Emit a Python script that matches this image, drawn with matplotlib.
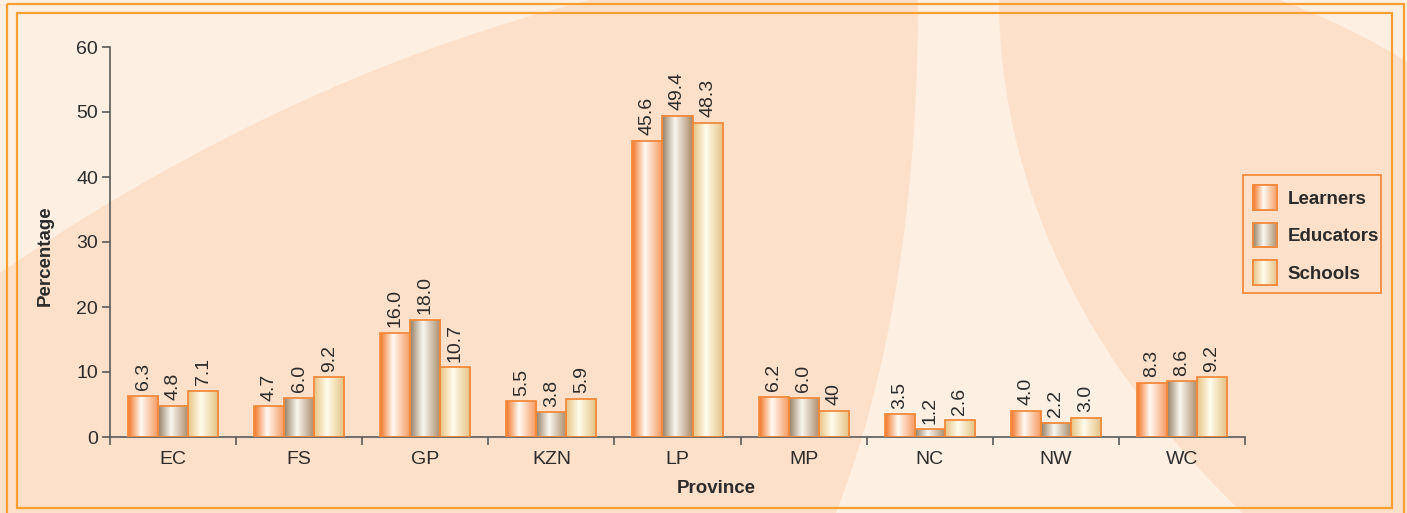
import numpy as np
import matplotlib
matplotlib.use('Agg')
import matplotlib.pyplot as plt
from matplotlib.patches import Patch, Rectangle, PathPatch
from matplotlib.path import Path
from matplotlib.image import BboxImage
from matplotlib.transforms import IdentityTransform

# ---------------- data ----------------
provinces = ['EC', 'FS', 'GP', 'KZN', 'LP', 'MP', 'NC', 'NW', 'WC']
learners = [6.3, 4.7, 16.0, 5.5, 45.6, 6.2, 3.5, 4.0, 8.3]
educators = [4.8, 6.0, 18.0, 3.8, 49.4, 6.0, 1.2, 2.2, 8.6]
schools = [7.1, 9.2, 10.7, 5.9, 48.3, 4.0, 2.6, 3.0, 9.2]
learner_labels = ['6.3', '4.7', '16.0', '5.5', '45.6', '6.2', '3.5', '4.0', '8.3']
educator_labels = ['4.8', '6.0', '18.0', '3.8', '49.4', '6.0', '1.2', '2.2', '8.6']
school_labels = ['7.1', '9.2', '10.7', '5.9', '48.3', '40', '2.6', '3.0', '9.2']
series_names = ['Learners', 'Educators', 'Schools']
y_ticks = [0, 10, 20, 30, 40, 50, 60]

# ---------------- style ----------------
plt.rcParams['font.family'] = ['Liberation Sans', 'DejaVu Sans']
W, H = 1407, 513
DARK_BG = '#fde0c9'
LIGHT_BG = '#fdefe2'
BORDER = '#f7a031'
EDGE = '#f28a3c'
TEXT = '#2b2b2b'
SPINE = '#5a5a5a'
FS = 14
FSB = 13.5

gradients = {
    'Learners': [(243, 118, 38), (255, 250, 244), (246, 150, 90)],
    'Educators': [(150, 128, 100), (250, 247, 240), (168, 137, 104)],
    'Schools': [(231, 196, 132), (255, 252, 236), (228, 192, 128)],
}
mid_colors = {'Learners': '#f7a070', 'Educators': '#b9a386', 'Schools': '#efd6a6'}


def make_gradient(stops, n=64):
    pos = [0.0, 0.42, 1.0]
    t = np.linspace(0, 1, n)
    arr = np.zeros((1, n, 3))
    for c in range(3):
        arr[0, :, c] = np.interp(t, pos, [s[c] / 255 for s in stops])
    return arr


fig = plt.figure(figsize=(W / 100, H / 100), dpi=100)
fig.patch.set_facecolor(DARK_BG)

# background decoration (pixel coordinates, y downwards)
bg = fig.add_axes([0, 0, 1, 1], zorder=-1)
bg.set_xlim(0, W)
bg.set_ylim(H, 0)
bg.axis('off')
bg.set_facecolor(DARK_BG)
M, C4, L, CL = Path.MOVETO, Path.CURVE4, Path.LINETO, Path.CLOSEPOLY
tl = Path([(0, 0), (590, 0), (350, 60), (150, 170), (0, 273), (0, 0)],
          [M, L, C4, C4, C4, CL])
bg.add_patch(PathPatch(tl, facecolor=LIGHT_BG, edgecolor='none'))
band = Path([(918, 0), (918, 200), (890, 380), (833, 520),
             (1250, 520), (1080, 360), (1000, 180), (999, 0), (918, 0)],
            [M, C4, C4, C4, L, C4, C4, C4, CL])
bg.add_patch(PathPatch(band, facecolor=LIGHT_BG, edgecolor='none'))
tr = Path([(1280, 0), (1320, 15), (1370, 38), (1407, 62), (1407, 0), (1280, 0)],
          [M, C4, C4, C4, L, CL])
bg.add_patch(PathPatch(tr, facecolor=LIGHT_BG, edgecolor='none'))
bg.add_patch(Rectangle((7, 4), 1397, 520, fill=False, edgecolor=BORDER, lw=1.6))
bg.add_patch(Rectangle((17, 13), 1375, 495, fill=False, edgecolor=BORDER, lw=1.6))
# legend frame
bg.add_patch(Rectangle((1243, 175), 138, 118, facecolor=DARK_BG, edgecolor=EDGE, lw=1.3))

# main axes
ax = fig.add_axes([110 / W, 1 - 437 / H, (1245 - 110) / W, 390 / H])
ax.set_facecolor('none')

x = np.arange(len(provinces))
bw = 0.238
all_vals = [learners, educators, schools]
all_labels = [learner_labels, educator_labels, school_labels]
for i, (name, vals, labs) in enumerate(zip(series_names, all_vals, all_labels)):
    offs = (i - 1) * bw
    bars = ax.bar(x + offs, vals, width=bw, facecolor='none', edgecolor=EDGE,
                  linewidth=1.3, zorder=3)
    grad = make_gradient(gradients[name])
    for b, lab in zip(bars, labs):
        x0 = b.get_x()
        h = b.get_height()
        ax.imshow(grad, extent=(x0, x0 + b.get_width(), 0, h), aspect='auto',
                  interpolation='bilinear', zorder=2)
        ax.annotate(lab, (x0 + b.get_width() / 2, h), xytext=(0, 4),
                    textcoords='offset points', rotation=90, ha='center',
                    va='bottom', fontsize=FS, color=TEXT)

ax.set_aspect('auto')
ax.set_xlim(-0.5, len(provinces) - 0.5)
ax.set_ylim(0, 60)
ax.set_yticks(y_ticks)
ax.set_xticks(x)
ax.set_xticklabels(provinces)
ax.set_xticks(np.arange(len(provinces) + 1) - 0.5, minor=True)
ax.tick_params(axis='x', which='major', length=0, pad=10, labelsize=FS, labelcolor=TEXT)
ax.tick_params(axis='x', which='minor', length=6, direction='out', color=SPINE, width=1.2)
ax.tick_params(axis='y', length=5.5, direction='out', color=SPINE, width=1.2,
               pad=3, labelsize=FS, labelcolor=TEXT)
for s in ['top', 'right']:
    ax.spines[s].set_visible(False)
for s in ['left', 'bottom']:
    ax.spines[s].set_color(SPINE)
    ax.spines[s].set_linewidth(1.2)

ax.set_xlabel('Province', fontsize=FSB, fontweight='bold', color=TEXT)
ax.xaxis.set_label_coords((716 - 110) / 1135, (437 - 480) / 390)
ax.set_ylabel('Percentage', fontsize=FSB, fontweight='bold', color=TEXT)
ax.yaxis.set_label_coords((54 - 110) / 1135, (437 - 256) / 390)

handles = [Patch(facecolor=mid_colors[n], edgecolor=EDGE, linewidth=1.3) for n in series_names]
leg = fig.legend(handles, series_names, loc='upper left',
                 bbox_to_anchor=(1253 / W, 1 - 185 / H), bbox_transform=fig.transFigure,
                 borderaxespad=0, frameon=False,
                 prop={'size': FSB, 'weight': 'bold'},
                 handlelength=1.3, handleheight=1.67, handletextpad=0.55,
                 labelspacing=0.67, borderpad=0)
for t in leg.get_texts():
    t.set_color(TEXT)

fig.canvas.draw()
renderer = fig.canvas.get_renderer()
for h, n in zip(leg.legend_handles, series_names):
    bb = h.get_window_extent(renderer)
    img = BboxImage(bb, interpolation='bilinear', zorder=9)
    img.set_data(make_gradient(gradients[n]))
    fig.add_artist(img)
    fig.add_artist(Rectangle((bb.x0, bb.y0), bb.width, bb.height, transform=IdentityTransform(),
                             fill=False, edgecolor=EDGE, lw=1.3, zorder=10))

fig.savefig('out.png', dpi=100, facecolor=fig.get_facecolor())
